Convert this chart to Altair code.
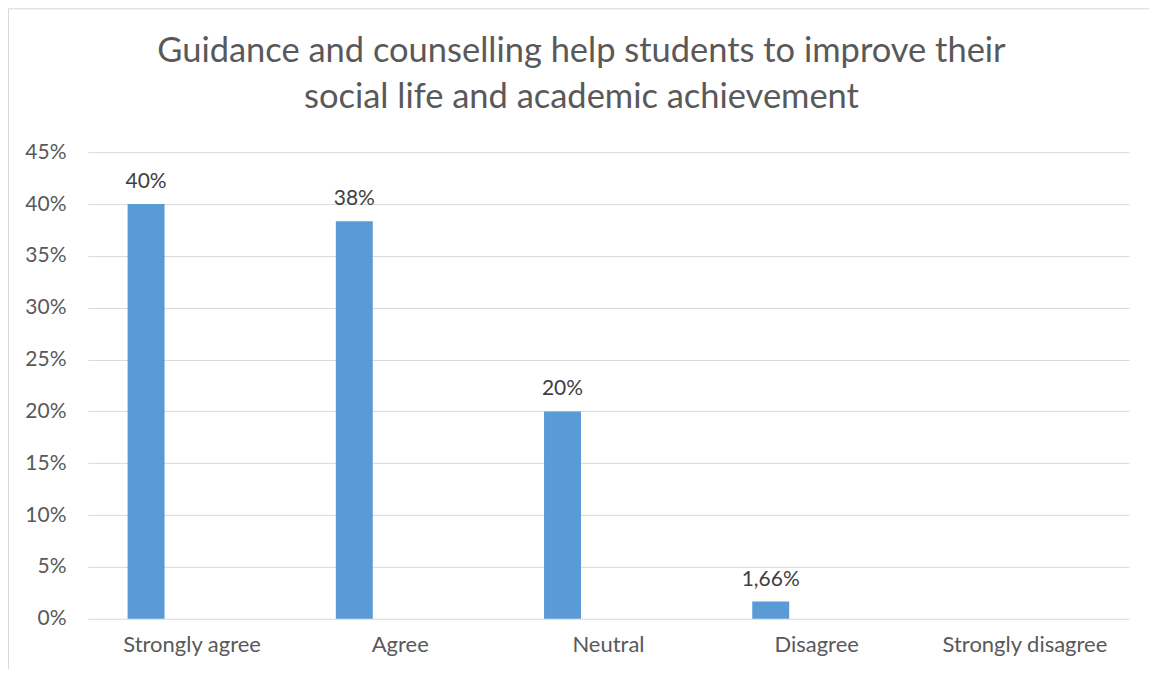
import altair as alt
import pandas as pd

categories = ["Strongly agree", "Agree", "Neutral", "Disagree", "Strongly disagree"]
values = [40.0, 38.33, 20.0, 1.66, 0.0]
labels = ["40%", "38%", "20%", "1,66%", ""]

title_lines = ["Guidance and counselling help students to improve their",
               "social life and academic achievement"]

df = pd.DataFrame({"cat": categories, "val": [v / 100 for v in values], "lab": labels})

FONT = "Lato"
TXT = "#595959"

x = alt.X("cat:N", sort=categories, title=None,
          scale=alt.Scale(paddingInner=0, paddingOuter=0),
          axis=alt.Axis(labelAngle=0, labelFont=FONT, labelFontSize=22, labelColor=TXT,
                        domain=False, ticks=False, labelPadding=16, grid=False))
y = alt.Y("val:Q", title=None,
          scale=alt.Scale(domain=[0, 0.45], nice=False),
          axis=alt.Axis(format=".0%", values=[i * 0.05 for i in range(10)],
                        labelFont=FONT, labelFontSize=21, labelColor=TXT,
                        domain=False, ticks=False, labelPadding=22,
                        gridColor="#d9d9d9", gridWidth=1))

base = alt.Chart(df)
bars = base.mark_bar(width=37, xOffset=-46, color="#5B9BD5").encode(x=x, y=y)
text = base.mark_text(xOffset=-46, dy=-12, font=FONT, fontSize=21, color="#404040",
                      baseline="bottom").encode(x=x, y=y, text="lab:N")

frame = pd.DataFrame({"a": [0]})
left_line = alt.Chart(frame).mark_rule(color="#d9d9d9", strokeWidth=1).encode(
    x=alt.value(-79.5), y=alt.value(-143.5), y2=alt.value(520))
top_line = alt.Chart(frame).mark_rule(color="#d9d9d9", strokeWidth=1).encode(
    x=alt.value(-79.5), x2=alt.value(1070), y=alt.value(-143.5))

chart = alt.layer(bars, text, left_line, top_line).properties(
    width=1042, height=467,
    background="white",
    title=alt.TitleParams(title_lines, font=FONT, fontSize=34.5, color=TXT,
                          fontWeight="normal", lineHeight=46, anchor="middle",
                          baseline="bottom", dx=-27, offset=-141),
    autosize=alt.AutoSizeParams(type="none"),
    padding={"left": 80, "top": 144, "right": 20, "bottom": 50},
).configure_view(strokeWidth=0)

chart.save("out.html", embed_options={"renderer": "svg", "actions": False})
